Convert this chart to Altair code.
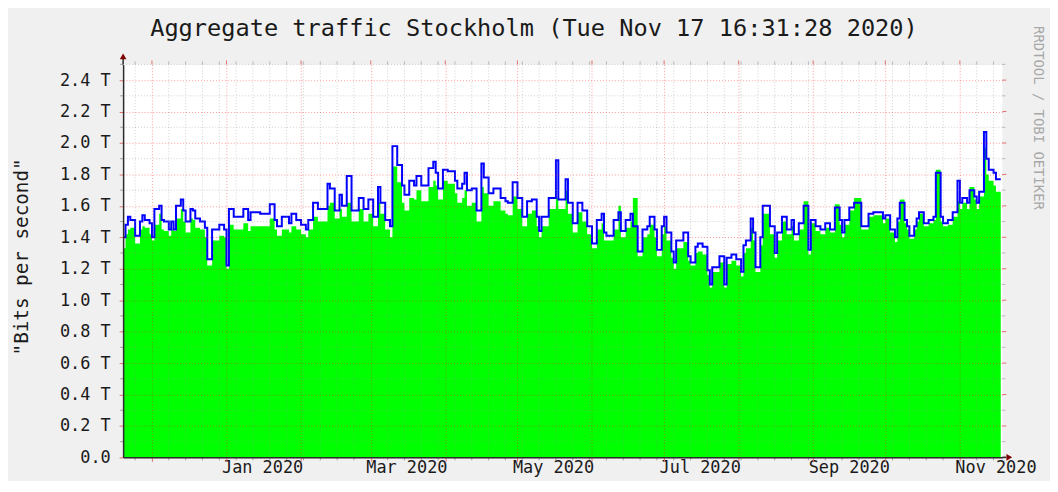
import altair as alt
import pandas as pd

TITLE = "Aggregate traffic Stockholm (Tue Nov 17 16:31:28 2020)"
Y_TITLE = '"Bits per second"'
WATERMARK = "RRDTOOL / TOBI OETIKER"

START = "2019-11-19 00:00"

# day offsets (from START) where the stepped series change value
day = [0, 1, 2, 3, 5, 7, 8, 9, 11, 12, 13, 15, 16, 17, 19, 20, 21, 22, 24, 25,
       26, 28, 29, 30, 32, 34, 35, 37, 40, 42, 43, 44, 46, 50, 52, 53, 57, 61, 63, 64,
       66, 69, 70, 72, 74, 76, 77, 79, 81, 85, 86, 88, 90, 91, 93, 95, 98, 100, 102, 104,
       106, 107, 109, 111, 112, 114, 116, 117, 119, 121, 122, 124, 127, 129, 130, 131, 133, 135, 138, 139,
       141, 142, 143, 145, 147, 149, 150, 152, 154, 157, 159, 160, 162, 164, 166, 168, 170, 172, 173, 174,
       177, 180, 181, 184, 185, 187, 189, 191, 193, 195, 197, 199, 200, 201, 204, 206, 207, 209, 211, 212,
       214, 216, 218, 219, 221, 222, 224, 225, 226, 228, 229, 230, 233, 235, 236, 238, 239, 241, 243, 244,
       245, 248, 250, 251, 253, 255, 257, 258, 259, 261, 262, 263, 265, 266, 269, 271, 272, 274, 276, 278,
       279, 281, 283, 285, 286, 288, 290, 292, 294, 296, 298, 299, 300, 302, 304, 307, 308, 310, 312, 316,
       317, 319, 321, 322, 323, 325, 326, 327, 329, 330, 331, 333, 335, 337, 338, 340, 341, 343, 345, 347,
       348, 349, 351, 352, 354, 355, 356, 358, 359, 360, 362, 363, 365]

# blue line (T bits per second)
outbound = [1.40, 1.48, 1.53, 1.51, 1.41, 1.50, 1.54, 1.51, 1.49, 1.40, 1.58, 1.60, 1.51, 1.50, 1.45, 1.50, 1.45, 1.60, 1.64, 1.57,
            1.50, 1.58, 1.57, 1.52, 1.50, 1.46, 1.26, 1.45, 1.48, 1.45, 1.22, 1.58, 1.53, 1.58, 1.51, 1.56, 1.55, 1.61, 1.51, 1.47,
            1.53, 1.49, 1.55, 1.51, 1.48, 1.45, 1.51, 1.62, 1.58, 1.74, 1.71, 1.57, 1.67, 1.60, 1.79, 1.57, 1.65, 1.58, 1.64, 1.53,
            1.72, 1.62, 1.51, 1.47, 1.98, 1.86, 1.73, 1.67, 1.76, 1.73, 1.79, 1.73, 1.84, 1.88, 1.81, 1.71, 1.83, 1.82, 1.76, 1.71,
            1.74, 1.81, 1.70, 1.71, 1.57, 1.87, 1.78, 1.68, 1.71, 1.65, 1.63, 1.62, 1.75, 1.65, 1.53, 1.63, 1.64, 1.53, 1.44, 1.53,
            1.65, 1.89, 1.64, 1.77, 1.62, 1.49, 1.62, 1.57, 1.47, 1.36, 1.51, 1.55, 1.43, 1.41, 1.51, 1.56, 1.44, 1.51, 1.55, 1.47,
            1.31, 1.45, 1.47, 1.53, 1.45, 1.32, 1.47, 1.53, 1.43, 1.31, 1.24, 1.38, 1.43, 1.28, 1.24, 1.34, 1.36, 1.34, 1.19, 1.10,
            1.21, 1.28, 1.10, 1.27, 1.29, 1.26, 1.18, 1.35, 1.38, 1.52, 1.43, 1.21, 1.40, 1.60, 1.47, 1.30, 1.43, 1.53, 1.45, 1.51,
            1.42, 1.49, 1.60, 1.32, 1.51, 1.47, 1.45, 1.49, 1.45, 1.59, 1.51, 1.43, 1.51, 1.59, 1.62, 1.47, 1.47, 1.55, 1.56, 1.52,
            1.54, 1.45, 1.40, 1.52, 1.62, 1.51, 1.47, 1.41, 1.47, 1.52, 1.56, 1.49, 1.51, 1.53, 1.81, 1.53, 1.49, 1.51, 1.56, 1.76,
            1.62, 1.65, 1.62, 1.70, 1.66, 1.62, 1.69, 2.07, 1.90, 1.83, 1.81, 1.77, 1.77]

# green area (T bits per second)
inbound = [1.33, 1.42, 1.45, 1.46, 1.36, 1.45, 1.47, 1.46, 1.42, 1.38, 1.48, 1.55, 1.45, 1.44, 1.41, 1.45, 1.44, 1.52, 1.58, 1.50,
           1.43, 1.52, 1.51, 1.46, 1.45, 1.40, 1.22, 1.38, 1.41, 1.40, 1.20, 1.48, 1.45, 1.49, 1.44, 1.47, 1.47, 1.52, 1.45, 1.41,
           1.45, 1.43, 1.47, 1.45, 1.42, 1.40, 1.45, 1.53, 1.50, 1.60, 1.62, 1.52, 1.58, 1.53, 1.62, 1.50, 1.58, 1.50, 1.55, 1.47,
           1.62, 1.55, 1.45, 1.40, 1.85, 1.75, 1.62, 1.57, 1.65, 1.64, 1.70, 1.63, 1.72, 1.76, 1.73, 1.64, 1.76, 1.74, 1.68, 1.62,
           1.65, 1.70, 1.60, 1.62, 1.50, 1.72, 1.68, 1.60, 1.63, 1.57, 1.55, 1.54, 1.66, 1.58, 1.47, 1.55, 1.57, 1.47, 1.40, 1.47,
           1.58, 1.65, 1.58, 1.70, 1.55, 1.43, 1.56, 1.50, 1.42, 1.33, 1.45, 1.49, 1.38, 1.38, 1.45, 1.60, 1.40, 1.46, 1.50, 1.65,
           1.28, 1.40, 1.42, 1.48, 1.40, 1.28, 1.42, 1.47, 1.38, 1.27, 1.20, 1.33, 1.37, 1.25, 1.22, 1.30, 1.31, 1.29, 1.16, 1.08,
           1.18, 1.24, 1.08, 1.23, 1.25, 1.22, 1.15, 1.30, 1.33, 1.46, 1.38, 1.18, 1.35, 1.55, 1.42, 1.27, 1.38, 1.50, 1.42, 1.47,
           1.38, 1.45, 1.63, 1.29, 1.49, 1.44, 1.42, 1.46, 1.43, 1.61, 1.48, 1.40, 1.48, 1.57, 1.65, 1.45, 1.45, 1.53, 1.54, 1.49,
           1.52, 1.43, 1.37, 1.50, 1.64, 1.49, 1.45, 1.39, 1.45, 1.50, 1.55, 1.47, 1.49, 1.51, 1.83, 1.50, 1.47, 1.48, 1.53, 1.63,
           1.58, 1.62, 1.58, 1.72, 1.64, 1.58, 1.66, 1.97, 1.80, 1.76, 1.73, 1.69, 1.69]

month_labels = ["Jan 2020", "Mar 2020", "May 2020", "Jul 2020", "Sep 2020", "Nov 2020"]
month_label_at = ["2020-01-16", "2020-03-16", "2020-05-16", "2020-07-16", "2020-09-16", "2020-11-16"]

assert len(day) == len(outbound) == len(inbound)

W, H = 886, 396
MONO = "DejaVu Sans Mono"

df = pd.DataFrame({
    "date": pd.Timestamp(START) + pd.to_timedelta(day, unit="D"),
    "outbound": outbound,
    "inbound": inbound,
})
lab_df = pd.DataFrame({"date": pd.to_datetime(month_label_at), "label": month_labels})

# grid positions: monthly major (axis), weekly minor (rules); 0.2 major, 0.1 minor
months = pd.date_range("2019-12-01", "2020-11-01", freq="MS")
weeks = [w for w in pd.date_range("2019-11-24", "2020-11-15", freq="W-SUN") if w.day != 1]
x_vals = [alt.DateTime(year=t.year, month=t.month, date=t.day) for t in months]
y_major = [round(i * 0.2, 1) for i in range(13)]
y_minor = [round(0.1 + i * 0.2, 1) for i in range(13)]

x_scale = alt.Scale(domain=[alt.DateTime(year=2019, month=11, date=19),
                            alt.DateTime(year=2020, month=11, date=18, hours=16)])
y_scale = alt.Scale(domain=[0, 2.5], nice=False)

GRID_RED = "#ff0000"
GRID_GRAY = "#8c8c8c"
AXIS_COL = "#2c2c2c"

x_axis = alt.Axis(
    values=x_vals, tickCount=500, labels=False, title=None, grid=True,
    gridColor=GRID_RED, gridOpacity=0.4, gridDash=[1, 2], gridWidth=1,
    ticks=True, tickSize=4, tickColor="#e07070",
    domainColor=AXIS_COL, domainWidth=1.5, zindex=1,
)
y_axis = alt.Axis(
    values=y_major, tickCount=500, title=None, grid=True,
    gridColor=GRID_RED, gridOpacity=0.4, gridDash=[1, 2], gridWidth=1,
    ticks=True, tickSize=4, tickColor="#e07070",
    labelExpr="datum.value < 0.05 ? '0.0\u00a0\u00a0' : format(datum.value, '.1f') + ' T'",
    labelFont=MONO, labelFontSize=17, labelColor="#1a1a1a", labelPadding=9,
    labelOverlap=False,
    domainColor=AXIS_COL, domainWidth=1.5, zindex=1,
)

area = alt.Chart(df).mark_area(interpolate="step-after", color="#00ff00", opacity=1).encode(
    x=alt.X("date:T", scale=x_scale, axis=x_axis),
    y=alt.Y("inbound:Q", scale=y_scale, axis=y_axis),
)
line = alt.Chart(df).mark_line(interpolate="step-after", color="#0000ff", strokeWidth=2).encode(
    x="date:T", y="outbound:Q",
)

wk_df = pd.DataFrame({"date": weeks})
mo_df = pd.DataFrame({"date": months})
ymin_df = pd.DataFrame({"v": y_minor})
ymaj_df = pd.DataFrame({"v": y_major})

# minor grid (dotted, gray)
wk = alt.Chart(wk_df).mark_rule(color=GRID_GRAY, opacity=0.4, strokeDash=[1, 2], strokeWidth=1).encode(x="date:T")
hm = alt.Chart(ymin_df).mark_rule(color=GRID_GRAY, opacity=0.4, strokeDash=[1, 2], strokeWidth=1).encode(y="v:Q")

# short solid grid-end ticks outside the plot
wk_bot = alt.Chart(wk_df).mark_rule(color="#a0a0a0").encode(x="date:T", y=alt.value(H), y2=alt.value(H + 3))
wk_top = alt.Chart(wk_df).mark_rule(color="#b8b8b8").encode(x="date:T", y=alt.value(-3), y2=alt.value(0))
mo_top = alt.Chart(mo_df).mark_rule(color="#e07070").encode(x="date:T", y=alt.value(-4), y2=alt.value(0))
ymin_l = alt.Chart(ymin_df).mark_rule(color="#a0a0a0").encode(y="v:Q", x=alt.value(-3), x2=alt.value(0))
ymin_r = alt.Chart(ymin_df).mark_rule(color="#b8b8b8").encode(y="v:Q", x=alt.value(W), x2=alt.value(W + 3))
ymaj_r = alt.Chart(ymaj_df).mark_rule(color="#e07070").encode(y="v:Q", x=alt.value(W), x2=alt.value(W + 4))

xlabels = alt.Chart(lab_df).mark_text(font=MONO, fontSize=17, color="#1a1a1a",
                                      align="center", baseline="middle").encode(
    x="date:T", y=alt.value(H + 11), text="label:N",
)

title = alt.Chart(pd.DataFrame({"t": [TITLE]})).mark_text(
    font=MONO, fontSize=23.8, color="#1a1a1a", align="center", baseline="middle"
).encode(text="t:N", x=alt.value(414), y=alt.value(-36))

ytitle = alt.Chart(pd.DataFrame({"t": [Y_TITLE]})).mark_text(
    font=MONO, fontSize=19.4, color="#1a1a1a", align="center", baseline="middle", angle=270
).encode(text="t:N", x=alt.value(-102), y=alt.value(H / 2 - 4))

wmark = alt.Chart(pd.DataFrame({"t": [WATERMARK]})).mark_text(
    font=MONO, fontSize=14, color="#a8a8a8", align="center", baseline="middle", angle=90
).encode(text="t:N", x=alt.value(W + 36), y=alt.value(54))

one = pd.DataFrame({"k": [0]})
yext = alt.Chart(one).mark_rule(color=AXIS_COL, strokeWidth=1.5).encode(
    x=alt.value(0), y=alt.value(0), y2=alt.value(-6))
xext = alt.Chart(one).mark_rule(color=AXIS_COL, strokeWidth=1.5).encode(
    x=alt.value(W), x2=alt.value(W + 4), y=alt.value(H))
yarrow = alt.Chart(one).mark_point(shape="triangle-up", filled=True, size=45, color="#7f0000", opacity=1).encode(
    x=alt.value(0), y=alt.value(-8))
xarrow = alt.Chart(one).mark_point(shape="triangle-right", filled=True, size=45, color="#7f0000", opacity=1).encode(
    x=alt.value(W + 7), y=alt.value(H))

chart = alt.layer(
    area, line, wk, hm, wk_bot, wk_top, mo_top, ymin_l, ymin_r, ymaj_r,
    xlabels, title, ytitle, wmark, yext, xext, yarrow, xarrow,
).properties(
    width=W, height=H,
    padding={"left": 116, "top": 55, "right": 48, "bottom": 22},
    autosize=alt.AutoSizeParams(type="none"),
    background="#f0f0f0",
).configure_view(stroke=None, fill="#ffffff")

chart.save("out.html", embed_options={"renderer": "svg", "actions": False})
